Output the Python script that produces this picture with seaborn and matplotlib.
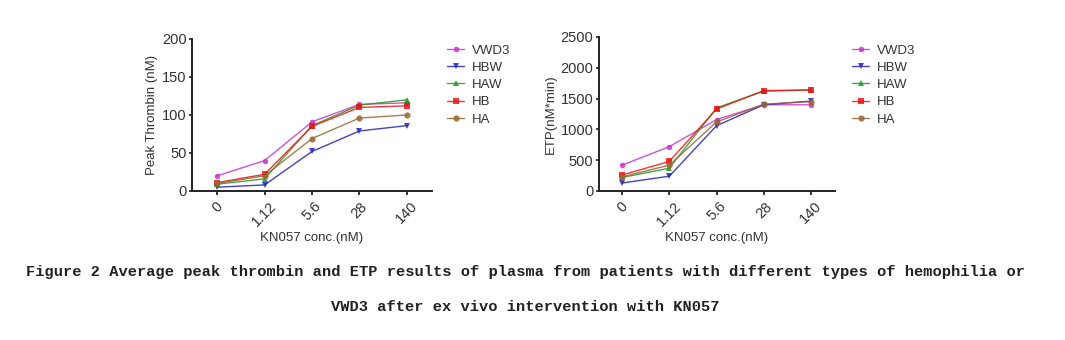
import numpy as np
import pandas as pd
import matplotlib
matplotlib.use("Agg")
import matplotlib.pyplot as plt
import seaborn as sns

conc_labels = ["0", "1.12", "5.6", "28", "140"]
groups = ["VWD3", "HBW", "HAW", "HB", "HA"]

peak_vwd3 = [20, 40, 91, 114, 116]
peak_hbw = [5, 8, 52, 79, 86]
peak_haw = [9, 16, 86, 113, 120]
peak_hb = [11, 22, 85, 110, 112]
peak_ha = [10, 20, 69, 96, 100]

etp_vwd3 = [420, 720, 1160, 1400, 1400]
etp_hbw = [130, 240, 1060, 1400, 1460]
etp_haw = [220, 370, 1350, 1620, 1640]
etp_hb = [260, 480, 1330, 1630, 1640]
etp_ha = [230, 420, 1120, 1410, 1450]

caption_1 = "Figure 2 Average peak thrombin and ETP results of plasma from patients with different types of hemophilia or"
caption_2 = "VWD3 after ex vivo intervention with KN057"

palette = {"VWD3": "#cc33cc", "HBW": "#2222bb", "HAW": "#229922", "HB": "#ee1111", "HA": "#996633"}
markers = {"VWD3": "o", "HBW": "v", "HAW": "^", "HB": "s", "HA": "o"}
msizes = {"VWD3": 4, "HBW": 4, "HAW": 4, "HB": 5, "HA": 4.5}


def long_df(series):
    rows = []
    for g, vals in zip(groups, series):
        for i, v in enumerate(vals):
            rows.append({"pos": i, "value": v, "group": g})
    return pd.DataFrame(rows)


peak_df = long_df([peak_vwd3, peak_hbw, peak_haw, peak_hb, peak_ha])
etp_df = long_df([etp_vwd3, etp_hbw, etp_haw, etp_hb, etp_ha])

sns.set_theme(style="ticks")
plt.rcParams["font.family"] = ["Liberation Sans", "DejaVu Sans"]

fig = plt.figure(figsize=(10.65, 3.4), dpi=100)
W, H = 1065, 340
ax1 = fig.add_axes([192 / W, 1 - 191 / H, (432 - 192) / W, (191 - 39) / H])
ax2 = fig.add_axes([599 / W, 1 - 191 / H, (835 - 599) / W, (191 - 37) / H])


def draw(ax, df, ylim, yticks, ylabel, xlim, leg_x):
    for g in groups:
        sub = df[df.group == g]
        sns.lineplot(data=sub, x="pos", y="value", ax=ax, color=palette[g], marker=markers[g],
                     markersize=msizes[g], markeredgewidth=0, linewidth=1.0, alpha=0.85, label=g)
    ax.set_xlim(*xlim)
    ax.set_ylim(*ylim)
    ax.set_yticks(yticks)
    ax.set_xticks(range(len(conc_labels)))
    ax.set_xticklabels(conc_labels, rotation=45, fontsize=10.5, color="#333333")
    for lbl in ax.get_xticklabels():
        lbl.set_ha("center")
        lbl.set_va("top")
    ax.tick_params(axis="y", labelsize=10.5, colors="#333333", length=2.5, width=1.3, pad=1.5)
    ax.tick_params(axis="x", length=3, width=1.3, pad=3)
    ax.set_ylabel(ylabel, fontsize=9.5, color="#333333", labelpad=3)
    ax.set_xlabel("KN057 conc.(nM)", fontsize=9.5, color="#333333", labelpad=2)
    for s in ["left", "bottom"]:
        ax.spines[s].set_linewidth(1.4)
        ax.spines[s].set_color("#222222")
    sns.despine(ax=ax)
    leg = ax.legend(loc="upper left", bbox_to_anchor=leg_x, frameon=False, fontsize=9.5,
                    handlelength=1.25, labelspacing=0.38, handletextpad=0.6, borderaxespad=0)
    for t in leg.get_texts():
        t.set_color("#333333")


draw(ax1, peak_df, (0, 200), [0, 50, 100, 150, 200], "Peak Thrombin (nM)", (-0.53, 4.53),
     ((442 - 192) / (432 - 192), (191 - 39) / (191 - 39)))
draw(ax2, etp_df, (0, 2500), [0, 500, 1000, 1500, 2000, 2500], "ETP(nM*min)", (-0.49, 4.51),
     ((847 - 599) / (835 - 599), (191 - 39) / (191 - 37)))

cap_font = dict(family=["Liberation Mono", "DejaVu Sans Mono"], fontsize=11.1, fontweight="bold", color="#222222",
                ha="center", va="center")
fig.text(525 / W, 1 - 272 / H, caption_1, **cap_font)
fig.text(525 / W, 1 - 307 / H, caption_2, **cap_font)

fig.savefig("out.png", dpi=100)
